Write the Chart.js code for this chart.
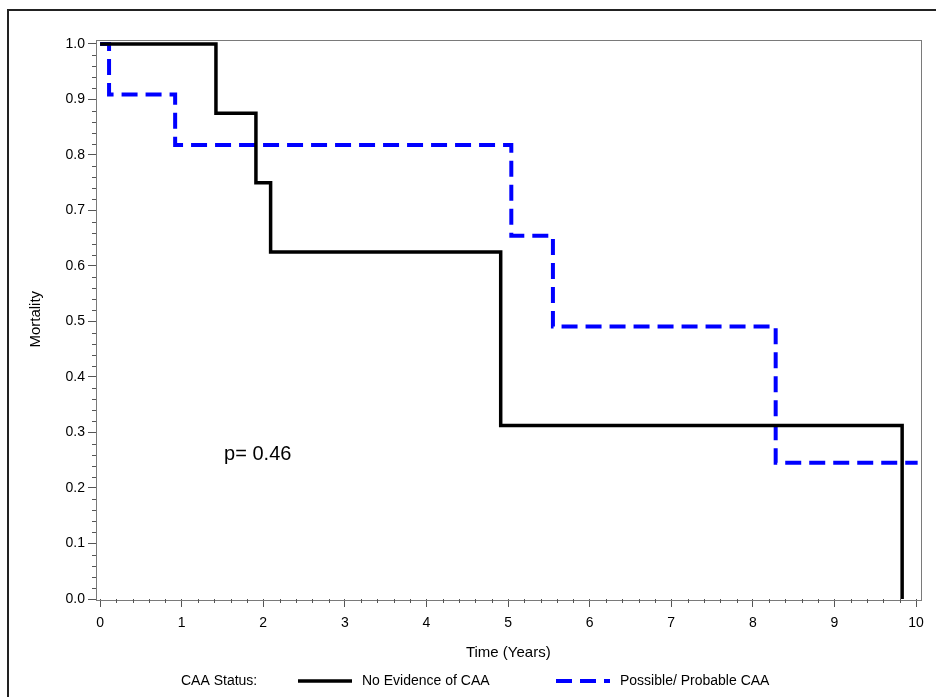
<!DOCTYPE html>
<html>
<head>
<meta charset="utf-8">
<script src="https://cdn.jsdelivr.net/npm/chart.js@4.4.1/dist/chart.umd.min.js"></script>
<style>
    html, body { margin: 0; padding: 0; background: #fff; overflow: hidden; }
    #wrap { position: relative; width: 936px; height: 697px; }
    #frame { position: absolute; left: 7px; top: 9px; width: 1000px; height: 1000px; border: 2px solid #222; box-sizing: border-box; }
    canvas { position: absolute; left: 0; top: 0; }
</style>
</head>
<body>
<div id="wrap">
    <div id="frame"></div>
    <canvas id="km" width="936" height="697"></canvas>
</div>
<script>
// Kaplan-Meier style step data (time in years, mortality)
const noCaaTimes = [0, 1.42, 1.91, 2.09, 4.91, 9.83];
const noCaaMortality = [1.0, 0.875, 0.75, 0.625, 0.3125, 0];
const caaTimes = [0, 0.11, 0.92, 5.04, 5.55, 8.28, 10.02];
const caaMortality = [1.0, 0.909, 0.818, 0.6545, 0.491, 0.2454, 0.2454];

const seriesLabels = ['No Evidence of CAA', 'Possible/ Probable CAA'];
const legendTitle = 'CAA Status:';
const pValueText = 'p= 0.46';

const xTickValues = [0, 1, 2, 3, 4, 5, 6, 7, 8, 9, 10];
const xTickLabels = ['0', '1', '2', '3', '4', '5', '6', '7', '8', '9', '10'];
const yTickValues = [0, 0.1, 0.2, 0.3, 0.4, 0.5, 0.6, 0.7, 0.8, 0.9, 1.0];
const yTickLabels = ['0.0', '0.1', '0.2', '0.3', '0.4', '0.5', '0.6', '0.7', '0.8', '0.9', '1.0'];

const FONT = "'Liberation Sans', Arial, Helvetica, sans-serif";
Chart.defaults.font.family = FONT;
Chart.defaults.color = '#000';

const toPoints = (xs, ys) => xs.map((x, i) => ({ x, y: ys[i] }));

// frame around plot area + minor tick marks
const framePlugin = {
    id: 'kmFrame',
    beforeDatasetsDraw(chart) {
        const { ctx, chartArea: a, scales } = chart;
        ctx.save();
        ctx.strokeStyle = '#7a7a7a';
        ctx.lineWidth = 1;
        ctx.strokeRect(Math.round(a.left) + 0.5, Math.round(a.top) + 0.5,
            Math.round(a.right - a.left), Math.round(a.bottom - a.top));

        ctx.strokeStyle = '#555';
        ctx.beginPath();
        for (let i = 0; i < xTickValues.length - 1; i++) {
            const step = (xTickValues[i + 1] - xTickValues[i]) / 5;
            for (let k = 1; k < 5; k++) {
                const px = Math.round(scales.x.getPixelForValue(xTickValues[i] + k * step)) + 0.5;
                ctx.moveTo(px, a.bottom);
                ctx.lineTo(px, a.bottom + 4);
            }
        }
        for (let i = 0; i < yTickValues.length - 1; i++) {
            const step = (yTickValues[i + 1] - yTickValues[i]) / 5;
            for (let k = 1; k < 5; k++) {
                const py = Math.round(scales.y.getPixelForValue(yTickValues[i] + k * step)) + 0.5;
                ctx.moveTo(a.left, py);
                ctx.lineTo(a.left - 4, py);
            }
        }
        ctx.stroke();
        ctx.restore();
    },
};

// legend row at the bottom and the p-value note
const legendPlugin = {
    id: 'kmLegend',
    afterDraw(chart) {
        const { ctx, scales } = chart;
        const y = 681;
        const starts = [298, 556];
        ctx.save();
        ctx.font = '14px ' + FONT;
        ctx.fillStyle = '#000';
        ctx.textBaseline = 'middle';
        ctx.fillText(legendTitle, 181, y);
        chart.data.datasets.forEach((ds, i) => {
            const x0 = starts[i];
            ctx.strokeStyle = ds.borderColor;
            ctx.lineWidth = ds.borderWidth;
            ctx.setLineDash(ds.borderDash || []);
            ctx.beginPath();
            ctx.moveTo(x0, y);
            ctx.lineTo(x0 + 54, y);
            ctx.stroke();
            ctx.setLineDash([]);
            ctx.fillText(ds.label, x0 + 64, y);
        });

        ctx.font = '20px ' + FONT;
        ctx.fillText(pValueText, scales.x.getPixelForValue(1.52), scales.y.getPixelForValue(0.261));
        ctx.restore();
    },
};

new Chart(document.getElementById('km'), {
    type: 'line',
    data: {
        datasets: [{
            label: seriesLabels[0],
            data: toPoints(noCaaTimes, noCaaMortality),
            borderColor: '#000',
            borderWidth: 3.5,
            stepped: 'before',
            pointRadius: 0,
            fill: false,
        }, {
            label: seriesLabels[1],
            data: toPoints(caaTimes, caaMortality),
            borderColor: '#0000ff',
            borderWidth: 4,
            borderDash: [16, 8],
            stepped: 'before',
            pointRadius: 0,
            fill: false,
        }],
    },
    options: {
        responsive: false,
        animation: false,
        layout: { padding: { left: 23, right: 15.5, top: 39.5, bottom: 31 } },
        plugins: {
            legend: { display: false },
            tooltip: { enabled: false },
        },
        scales: {
            x: {
                type: 'linear',
                min: -0.05,
                max: 10.055,
                afterBuildTicks: (s) => { s.ticks = xTickValues.map(v => ({ value: v })); },
                afterFit: (s) => { s.height = 67; },
                ticks: {
                    font: { size: 14 },
                    padding: 8,
                    maxRotation: 0,
                    autoSkip: false,
                    callback: (v, i) => xTickLabels[i],
                },
                grid: { drawOnChartArea: false, tickLength: 8, color: '#555' },
                border: { display: false },
                title: { display: true, text: 'Time (Years)', font: { size: 15 }, padding: { top: 4, bottom: 4 } },
            },
            y: {
                type: 'linear',
                min: 0,
                max: 1.008,
                afterBuildTicks: (s) => { s.ticks = yTickValues.map(v => ({ value: v })); },
                afterFit: (s) => { s.width = 73; },
                ticks: {
                    font: { size: 14 },
                    padding: 3,
                    autoSkip: false,
                    callback: (v, i) => yTickLabels[i],
                },
                grid: { drawOnChartArea: false, tickLength: 8, color: '#555' },
                border: { display: false },
                title: { display: true, text: 'Mortality', font: { size: 15 }, padding: { top: 4, bottom: 4 } },
            },
        },
    },
    plugins: [framePlugin, legendPlugin],
});
</script>
</body>
</html>
